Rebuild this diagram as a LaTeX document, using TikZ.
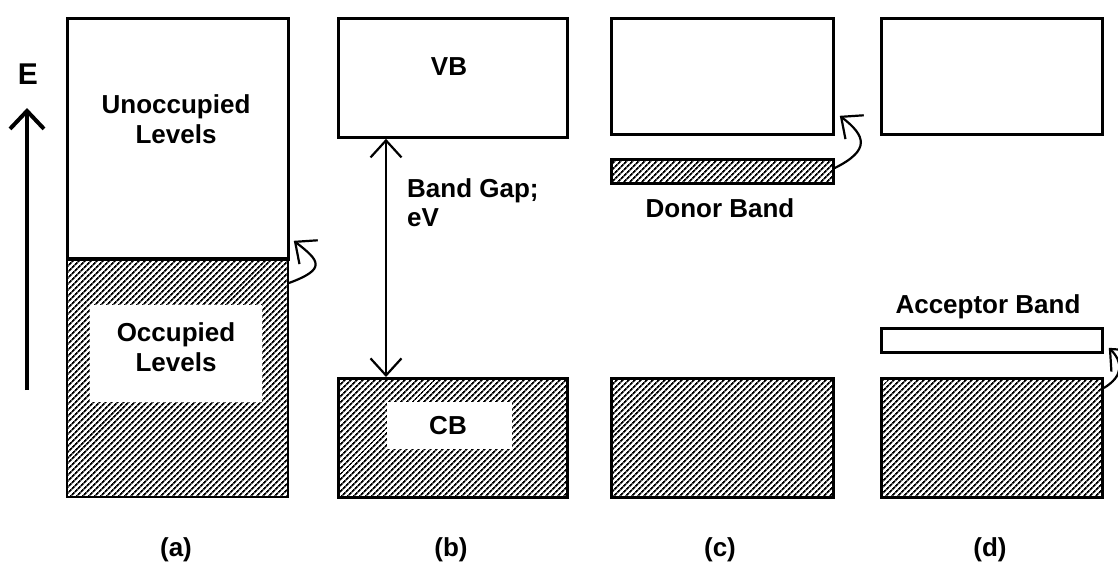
\documentclass[tikz,border=0pt]{standalone}
\usepackage{fontspec}
\setmainfont{Liberation Sans}
\usetikzlibrary{arrows.meta,patterns.meta}

\tikzset{
  band/.style={draw=black, line width=2.8pt, inner sep=0pt, anchor=north west},
  filled/.style={band, pattern={Lines[angle=45,distance=4pt,line width=1.9pt]}},
  clearing/.style={fill=white, inner sep=0pt, anchor=north west},
  lbl/.style={font=\fontsize{26}{30}\selectfont\bfseries, inner sep=0pt, anchor=base},
  lbll/.style={lbl, anchor=base west},
  axis/.style={line width=4.5pt, -{Straight Barb[length=18pt,width=34pt,line width=4pt]}},
  gap/.style={line width=2.2pt, {Straight Barb[length=17pt,width=31pt]}-{Straight Barb[length=17pt,width=31pt]}},
  hop/.style={line width=2.2pt, -{Straight Barb[length=17pt,width=30pt]}},
}

\begin{document}
\begin{tikzpicture}[x=1pt, y=-1pt]
\useasboundingbox (0,0) rectangle (1118,562);

% (a) metal: empty upper levels over filled lower levels
\node[band, minimum width=221pt, minimum height=241pt] (unocc) at (66,17) {};
\node[filled, minimum width=221pt, minimum height=239pt] (occ) at (66,257) {};
\node[clearing, minimum width=172pt, minimum height=97pt] (occclr) at (90,305) {};
\node[lbl] (tunocc) at (176,113) {Unoccupied};
\node[lbl] (tunocc2) at (176,143) {Levels};
\node[lbl] (tocc) at (176,341) {Occupied};
\node[lbl] (tocc2) at (176,371) {Levels};

% energy axis
\node[lbl, font=\fontsize{30}{32}\selectfont\bfseries] (E) at (28,84) {E};
\coordinate (axbot) at (27,390);
\coordinate (axtop) at (27,108);
\draw[axis] (axbot) -- (axtop);

% (b) insulator / semiconductor with a band gap
\node[band, minimum width=229pt, minimum height=119pt] (vb) at (337,17) {};
\node[filled, minimum width=229pt, minimum height=119pt] (cb) at (337,377) {};
\node[clearing, minimum width=125pt, minimum height=47pt] (cbclr) at (387,402) {};
\node[lbl] (tvb) at (449,75) {VB};
\node[lbl] (tcb) at (448,434) {CB};
\draw[gap] ([xshift=49pt]vb.south west) -- ([xshift=49pt]cb.north west);
\node[lbll] (tgap) at (407,197) {Band Gap;};
\node[lbll] (tgap2) at (407,226) {eV};

% (c) donor band just below the upper band
\node[band, minimum width=222pt, minimum height=116pt] (ctop) at (610,17) {};
\node[filled, minimum width=222pt, minimum height=24pt] (donor) at (610,158) {};
\node[filled, minimum width=222pt, minimum height=119pt] (cbot) at (610,377) {};
\node[lbl] (tdonor) at (720,217) {Donor Band};

% (d) acceptor band just above the lower band
\node[band, minimum width=221pt, minimum height=116pt] (dtop) at (880,17) {};
\node[band, minimum width=221pt, minimum height=24pt] (acceptor) at (880,327) {};
\node[filled, minimum width=221pt, minimum height=119pt] (dbot) at (880,377) {};
\node[lbl] (tacc) at (988,313) {Acceptor Band};

% excitation arrows
\draw[hop] ([yshift=-26pt]occ.north east) .. controls +(38,-14) and +(26,20) .. ([xshift=4pt,yshift=20pt]unocc.south east);
\draw[hop] ([yshift=-10pt]donor.north east) .. controls +(36,-18) and +(26,20) .. ([xshift=5pt,yshift=20pt]ctop.south east);
\draw[hop] ([yshift=-11pt]dbot.north east) .. controls +(20,-12) and +(14,14) .. ([xshift=5pt,yshift=6pt]acceptor.south east);

% panel captions
\node[lbl] (capa) at (176,556) {(a)};
\node[lbl] (capb) at (451,556) {(b)};
\node[lbl] (capc) at (720,556) {(c)};
\node[lbl] (capd) at (990,556) {(d)};
\end{tikzpicture}
\end{document}
